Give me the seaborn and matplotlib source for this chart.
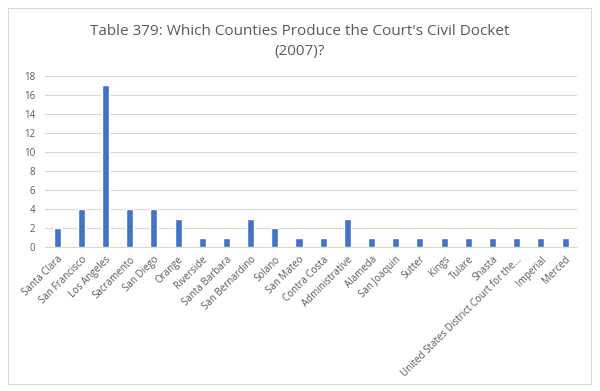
import matplotlib
matplotlib.use("Agg")
import matplotlib.pyplot as plt
from matplotlib.patches import Rectangle
import pandas as pd
import seaborn as sns

counties = ["Santa Clara", "San Francisco", "Los Angeles", "Sacramento", "San Diego",
            "Orange", "Riverside", "Santa Barbara", "San Bernardino", "Solano",
            "San Mateo", "Contra Costa", "Administrative", "Alameda", "San Joaquin",
            "Sutter", "Kings", "Tulare", "Shasta", "United States District Court for the...",
            "Imperial", "Merced"]
cases = [2, 4, 17, 4, 4, 3, 1, 1, 3, 2, 1, 1, 3, 1, 1, 1, 1, 1, 1, 1, 1, 1]
yticks = [0, 2, 4, 6, 8, 10, 12, 14, 16, 18]

df = pd.DataFrame({"county": counties, "cases": cases})

sns.set_style("white")
plt.rcParams["font.family"] = ["Open Sans", "DejaVu Sans"]

fig = plt.figure(figsize=(6, 3.91), dpi=100)
ax = fig.add_axes([0.075, 0.368, 0.887, 0.438])

sns.barplot(data=df, x="county", y="cases", color="#4472C4", width=0.29,
            saturation=1, ax=ax, zorder=3)

ax.set_ylim(0, 18)
ax.set_yticks(yticks)
ax.set_xlim(-0.5, len(counties) - 0.5)
ax.yaxis.grid(True, color="#d9d9d9", linewidth=0.8, zorder=0)
ax.set_axisbelow(True)
for s in ["top", "right", "left"]:
    ax.spines[s].set_visible(False)
ax.spines["bottom"].set_color("#d9d9d9")
ax.set_xlabel("")
ax.set_ylabel("")
ax.tick_params(axis="y", length=0, labelsize=7, labelcolor="#595959", pad=7)
ax.tick_params(axis="x", length=0, labelsize=7, labelcolor="#595959", pad=5)
plt.setp(ax.get_xticklabels(), rotation=45, ha="right", rotation_mode="anchor")

fig.suptitle("Table 379: Which Counties Produce the Court's Civil Docket\n(2007)?",
             y=0.938, fontsize=11, color="#595959", linespacing=1.45)

fig.patches.append(Rectangle((0.013, 0.018), 0.972, 0.962, transform=fig.transFigure,
                             fill=False, edgecolor="#d9d9d9", linewidth=0.8))

fig.savefig("out.png", dpi=100)
